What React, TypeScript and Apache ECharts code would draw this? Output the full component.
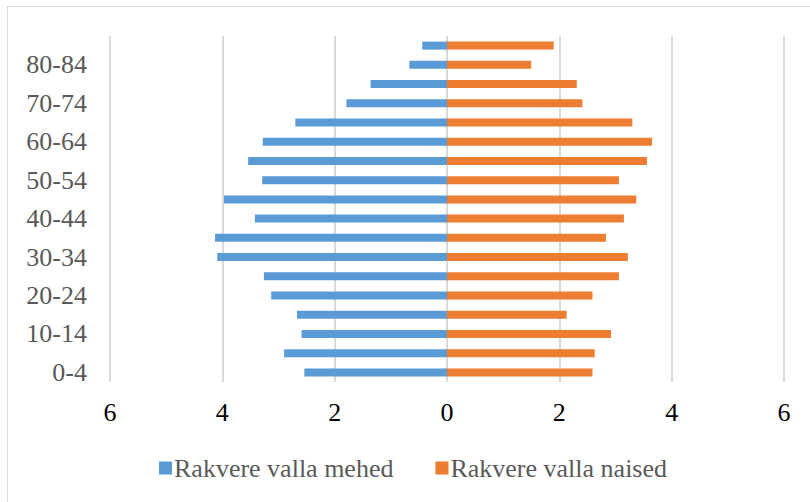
import React, { useEffect, useRef } from "react";
import * as echarts from "echarts";

const ageGroups = [
  "0-4", "5-9", "10-14", "15-19", "20-24", "25-29", "30-34", "35-39", "40-44",
  "45-49", "50-54", "55-59", "60-64", "65-69", "70-74", "75-79", "80-84", "85+",
];
// values listed from 0-4 up to 85+
const men = [2.54, 2.90, 2.59, 2.67, 3.13, 3.26, 4.09, 4.13, 3.42, 3.97, 3.29, 3.54, 3.28, 2.70, 1.79, 1.36, 0.67, 0.44];
const women = [2.59, 2.63, 2.92, 2.13, 2.59, 3.06, 3.22, 2.83, 3.15, 3.37, 3.06, 3.56, 3.65, 3.30, 2.41, 2.31, 1.50, 1.90];
const seriesNames = ["Rakvere valla mehed", "Rakvere valla naised"];
const colors = ["#5B9BD5", "#ED7D31"];

export default function App() {
  const ref = useRef<HTMLDivElement>(null);
  useEffect(() => {
    if (!ref.current) return;
    const chart = echarts.init(ref.current, undefined, { renderer: "svg" });
    const font = "'Liberation Serif', 'Times New Roman', serif";
    chart.setOption({
      animation: false,
      textStyle: { fontFamily: font },
      graphic: [
        {
          type: "rect",
          shape: { x: 7.5, y: 6.5, width: 820, height: 520 },
          style: { fill: "none", stroke: "#d9d9d9", lineWidth: 1 },
          silent: true,
        },
      ],
      grid: { left: 110, right: 26, top: 36, bottom: 120, containLabel: false },
      legend: {
        data: seriesNames,
        left: 154,
        top: 450,
        icon: "rect",
        itemWidth: 13,
        itemHeight: 13,
        itemGap: 42,
        textStyle: { fontFamily: font, fontSize: 26, color: "#595959", padding: [0, 0, 0, -3] },
      },
      xAxis: {
        type: "value",
        min: -6,
        max: 6,
        interval: 2,
        axisLine: { show: false },
        axisTick: { show: false },
        splitLine: { show: true, lineStyle: { color: "#d9d9d9", width: 2 } },
        axisLabel: {
          formatter: (v: number) => String(Math.abs(v)),
          fontFamily: font,
          fontSize: 26,
          color: "#000000",
          margin: 17,
        },
      },
      yAxis: {
        type: "category",
        data: ageGroups,
        axisLine: { show: false },
        axisTick: { show: false },
        splitLine: { show: false },
        axisLabel: {
          interval: 1,
          fontFamily: font,
          fontSize: 26,
          color: "#595959",
          margin: 23,
        },
      },
      series: [
        {
          name: seriesNames[0],
          type: "bar",
          stack: "pop",
          barWidth: 8,
          data: men.map((v) => -v),
          itemStyle: { color: colors[0] },
        },
        {
          name: seriesNames[1],
          type: "bar",
          stack: "pop",
          barWidth: 8,
          data: women,
          itemStyle: { color: colors[1] },
        },
      ],
    });
    return () => chart.dispose();
  }, []);
  return (
    <div
      ref={ref}
      style={{ position: "fixed", left: 0, top: 0, width: 810, height: 502, background: "#fff" }}
    />
  );
}
